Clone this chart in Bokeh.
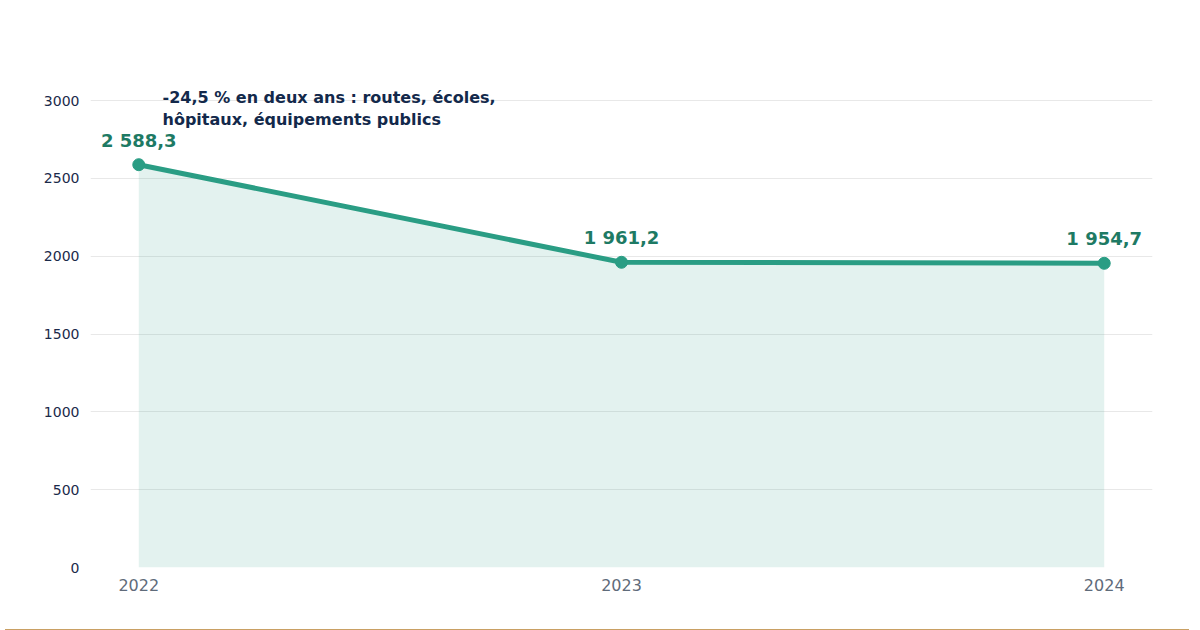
from bokeh.plotting import figure
from bokeh.models import Label, ColumnDataSource, Div
from bokeh.layouts import column
from bokeh.core.properties import value
from bokeh.embed import file_html
from bokeh.resources import INLINE

years = [2022, 2023, 2024]
values = [2588.3, 1961.2, 1954.7]
labels = ["2 588,3", "1 961,2", "1 954,7"]
yticks = [0, 500, 1000, 1500, 2000, 2500, 3000]

p = figure(width=1184, height=624, output_backend="svg", toolbar_location=None,
           x_range=(2021.9, 2024.1), y_range=(0, 3200),
           min_border_left=90, min_border_right=32, min_border_top=69, min_border_bottom=57)
p.outline_line_color = None
src = ColumnDataSource(dict(x=years, y=values, lab=labels))
p.varea(x="x", y1=0, y2="y", source=src, fill_color="#2a9d84", fill_alpha=0.13)
p.line(x="x", y="y", source=src, line_color="#2a9d84", line_width=5)
p.scatter(x="x", y="y", source=src, size=12, color="#2a9d84")
p.text(x="x", y="y", text="lab", source=src, text_align="center", text_baseline="bottom",
       y_offset=-14, text_font_size="18px", text_font_style="bold", text_color="#1e7a64",
       text_font=value("DejaVu Sans"))

p.xaxis.ticker = years
p.yaxis.ticker = yticks
p.xgrid.grid_line_color = None
p.ygrid.grid_line_color = "#e8e8e8"
for ax in (p.xaxis, p.yaxis):
    ax.axis_line_color = None
    ax.major_tick_line_color = None
    ax.minor_tick_line_color = None
    ax.major_label_text_font = "DejaVu Sans"
p.yaxis.major_label_text_font_size = "14px"
p.yaxis.major_label_text_color = "#1b2a4a"
p.xaxis.major_label_text_font_size = "16px"
p.xaxis.major_label_text_color = "#5f6b7a"

p.add_layout(Label(x=0, y=517, x_units="screen", y_units="screen", text="Mds FCFA",
                   text_font="DejaVu Sans", text_font_size="14px", text_color="#8a93a8",
                   text_baseline="middle"))
p.add_layout(Label(x=72, y=480, x_units="screen", y_units="screen",
                   text="-24,5 % en deux ans : routes, écoles,\nhôpitaux, équipements publics",
                   text_font="DejaVu Sans", text_font_size="16px", text_font_style="bold",
                   text_color="#13294b", text_baseline="top"))

bar = Div(width=1184, height=3, styles={"background-color": "#c9a063"})
layout = column(p, bar, spacing=0)
open("out.html", "w").write(file_html(layout, INLINE))
